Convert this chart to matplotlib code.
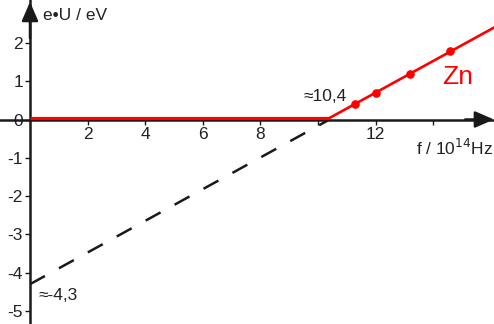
import matplotlib.pyplot as plt
from matplotlib import transforms

plt.rcParams['font.family'] = ['Liberation Sans', 'DejaVu Sans']
plt.rcParams['axes.unicode_minus'] = False

# photoelectric effect for zinc: e*U over light frequency
f_cutoff = 10.4          # 10^14 Hz
w_intercept = -4.3       # eV
zn_f = [11.3, 12.0, 13.2, 14.6]
zn_eu = [0.37, 0.66, 1.16, 1.74]
f_max = 16.2

x_ticks = [2, 4, 6, 8, 10, 12, 14]
x_labels = ['2', '4', '6', '8', '', '12', '']
y_ticks = [-5, -4, -3, -2, -1, 0, 1, 2]

RED = '#ff0000'
INK = '#1a1a1a'
TXT = '#222222'
FS = 12.5

W, H = 494, 324
fig = plt.figure(figsize=(W / 100, H / 100), dpi=100)
ax = fig.add_axes([0, 0, 1, 1])
px_x, px_y = 28.8, 38.3
x0, y0 = 30.0, 119.5
ax.set_xlim(-x0 / px_x, (W - x0) / px_x)
ax.set_ylim(-(H - y0) / px_y, y0 / px_y)

for s in ['top', 'right']:
    ax.spines[s].set_visible(False)
ax.spines['left'].set_position(('data', 0))
ax.spines['bottom'].set_position(('data', 0))
for s in ['left', 'bottom']:
    ax.spines[s].set_linewidth(1.8)
    ax.spines[s].set_color(INK)

ax.set_xticks(x_ticks)
ax.set_xticklabels(x_labels)
ax.set_yticks(y_ticks)
ax.tick_params(direction='out', length=3.6, width=1.0, color=INK,
               labelsize=FS, labelcolor=TXT, pad=1.5)

# arrow heads on both axes
xl, yl = ax.get_xlim(), ax.get_ylim()
ax.annotate('', xy=(xl[1], 0), xytext=(xl[1] - 1.0, 0),
            arrowprops=dict(arrowstyle='-|>,head_length=1.15,head_width=0.5',
                            color=INK, lw=1.8, mutation_scale=10,
                            shrinkA=0, shrinkB=0))
ax.annotate('', xy=(0, yl[1] - 0.05), xytext=(0, yl[1] - 1.0),
            arrowprops=dict(arrowstyle='-|>,head_length=1.15,head_width=0.5',
                            color=INK, lw=1.8, mutation_scale=10,
                            shrinkA=0, shrinkB=0))

# extrapolated line down to the work function
ax.plot([0, f_cutoff], [w_intercept, 0], color=INK, lw=1.8,
        dashes=(6.8, 6.4), dash_capstyle='butt', zorder=2)

# measured Zn curve, lifted slightly so the axis shows beneath it
lift = transforms.offset_copy(ax.transData, fig=fig, x=0, y=1.5, units='dots')
slope = -w_intercept / f_cutoff
ax.plot([0, f_cutoff], [0, 0], color=RED, lw=2.3, transform=lift, zorder=4,
        solid_capstyle='butt')
ax.plot([f_cutoff, f_max], [0, slope * (f_max - f_cutoff)], color=RED, lw=1.9,
        transform=lift, zorder=4)
ax.plot(zn_f, zn_eu, 'o', color=RED, ms=5.2, transform=lift, zorder=5)

ax.text(43 / px_x - x0 / px_x, (y0 - 15) / px_y, 'e•U / eV', fontsize=FS,
        color=TXT, va='center', ha='left')
ax.text(xl[1] - 0.03, -0.73, r'f / 10$^{14}$Hz', fontsize=FS,
        color=TXT, va='center', ha='right')
ax.text(14.86, 1.1, 'Zn', fontsize=19, color=RED, va='center', ha='center')
ax.text(10.24, 0.59, '≈10,4', fontsize=FS, color=TXT,
        va='center', ha='center')
ax.text(0.3, -4.6, '≈-4,3', fontsize=FS, color=TXT,
        va='center', ha='left')

fig.savefig('out.png', dpi=100, facecolor='white')
